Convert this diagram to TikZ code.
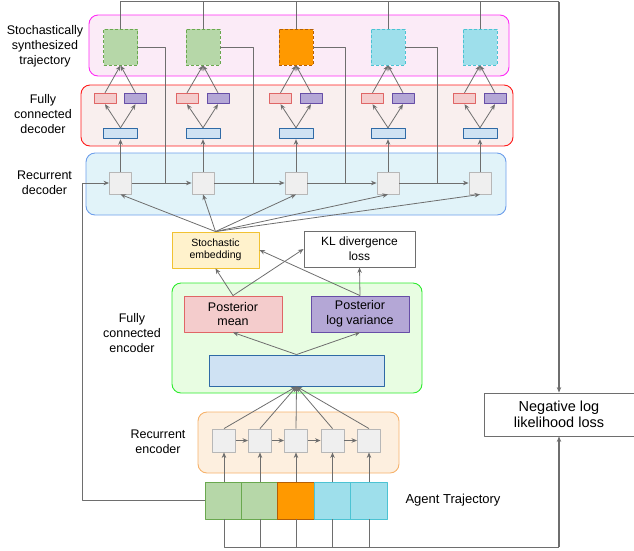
\documentclass[tikz,border=0pt]{standalone}
\usepackage{fontspec}
\setmainfont{Liberation Sans}
\usepackage{xcolor}
\usepackage{tikz}
\usetikzlibrary{arrows.meta}

\definecolor{linegray}{HTML}{6E6E6E}
\definecolor{cellfill}{HTML}{EFEFEF}
\definecolor{cellline}{HTML}{B7B7B7}
\definecolor{redfill}{HTML}{F4CCCC}
\definecolor{redline}{HTML}{E06666}
\definecolor{purfill}{HTML}{B4A7D6}
\definecolor{purline}{HTML}{674EA7}
\definecolor{bluefill}{HTML}{CFE2F3}
\definecolor{blueline}{HTML}{2F6AA6}
\definecolor{grnfill}{HTML}{B6D7A8}
\definecolor{grnline}{HTML}{6AA84F}
\definecolor{orgfill}{HTML}{FF9900}
\definecolor{orgline}{HTML}{B45F06}
\definecolor{cyafill}{HTML}{9EDFEB}
\definecolor{cyaline}{HTML}{4CC3D3}
\definecolor{embfill}{HTML}{FFF2CC}
\definecolor{embline}{HTML}{F1C232}
\definecolor{synthgrpfill}{HTML}{FBEBF7}
\definecolor{synthgrpline}{HTML}{FF2BF5}
\definecolor{fcdecfill}{HTML}{F9EFEE}
\definecolor{fcdecline}{HTML}{FF1A1A}
\definecolor{recdecfill}{HTML}{E1F3F9}
\definecolor{recdecline}{HTML}{6D9EEB}
\definecolor{fcencfill}{HTML}{E8FDE2}
\definecolor{fcencline}{HTML}{2DEB2D}
\definecolor{recencfill}{HTML}{FDEFDF}
\definecolor{recencline}{HTML}{F6B26B}

\begin{document}
\begin{tikzpicture}[x=1pt,y=-1pt,>={Stealth[length=5.5pt,width=4.5pt]},line join=round,
  grp/.style={rounded corners=9pt,line width=0.9pt,inner sep=0pt},
  cell/.style={draw=cellline,fill=cellfill,line width=0.9pt,inner sep=0pt},
  synthsq/.style={line width=0.9pt,dash pattern=on 3pt off 2pt,minimum width=34pt,minimum height=36pt,inner sep=0pt},
  trajsq/.style={line width=0.9pt,minimum width=36.2pt,minimum height=37pt,inner sep=0pt},
  smallbox/.style={line width=0.9pt,minimum height=10.5pt,inner sep=0pt},
  lossbox/.style={draw=linegray,fill=white,line width=0.9pt,inner sep=0pt,align=center},
  lbl/.style={align=center,font=\fontsize{12.5}{15}\selectfont},
  conn/.style={draw=linegray,line width=0.8pt},
  arr/.style={conn,->},
  fb/.style={draw=linegray,line width=1.3pt}]
  \useasboundingbox (0,0) rectangle (634,550);

  % group panels
  \node[grp,draw=synthgrpline,fill=synthgrpfill,minimum width=420pt,minimum height=61pt] (synthgrp) at (299,45.5) {};
  \node[grp,draw=fcdecline,fill=fcdecfill,minimum width=432pt,minimum height=61pt] (fcdecgrp) at (297,115.5) {};
  \node[grp,draw=recdecline,fill=recdecfill,minimum width=420pt,minimum height=62pt] (recdecgrp) at (296,184) {};
  \node[grp,draw=fcencline,fill=fcencfill,minimum width=250pt,minimum height=110pt] (fcencgrp) at (297,338) {};
  \node[grp,draw=recencline,fill=recencfill,minimum width=201pt,minimum height=61pt] (recencgrp) at (298.5,442.5) {};

  % group labels
  \node[lbl] (synthlbl) at (45,46) {Stochastically\\synthesized\\trajectory};
  \node[lbl] (fcdeclbl) at (43,114) {Fully\\connected\\decoder};
  \node[lbl] (recdeclbl) at (44.5,183) {Recurrent\\decoder};
  \node[lbl] (fcenclbl) at (132,333) {Fully\\connected\\encoder};
  \node[lbl] (recenclbl) at (158,442) {Recurrent\\encoder};
  \node[font=\fontsize{13}{15}\selectfont] (trajlbl) at (453,500) {Agent Trajectory};

  % synthesized trajectory
  \node[synthsq,draw=grnline,fill=grnfill] (ds1) at (120.5,47) {};
  \node[synthsq,draw=grnline,fill=grnfill] (ds2) at (203,47) {};
  \node[synthsq,draw=orgline,fill=orgfill] (ds3) at (296,47) {};
  \node[synthsq,draw=cyaline,fill=cyafill] (ds4) at (388,47) {};
  \node[synthsq,draw=cyaline,fill=cyafill] (ds5) at (480,47) {};

  % fully connected decoder
  \node[smallbox,draw=redline,fill=redfill,minimum width=22pt] (dr1) at (105,98.5) {};
  \node[smallbox,draw=purline,fill=purfill,minimum width=22pt] (dp1) at (135.5,98.5) {};
  \node[smallbox,draw=blueline,fill=bluefill,minimum width=34pt] (db1) at (120.5,133.5) {};
  \node[smallbox,draw=redline,fill=redfill,minimum width=22pt] (dr2) at (187,98.5) {};
  \node[smallbox,draw=purline,fill=purfill,minimum width=22pt] (dp2) at (218,98.5) {};
  \node[smallbox,draw=blueline,fill=bluefill,minimum width=34pt] (db2) at (203,133.5) {};
  \node[smallbox,draw=redline,fill=redfill,minimum width=22pt] (dr3) at (280.5,98.5) {};
  \node[smallbox,draw=purline,fill=purfill,minimum width=22pt] (dp3) at (311,98.5) {};
  \node[smallbox,draw=blueline,fill=bluefill,minimum width=34pt] (db3) at (296,133.5) {};
  \node[smallbox,draw=redline,fill=redfill,minimum width=22pt] (dr4) at (372.5,98.5) {};
  \node[smallbox,draw=purline,fill=purfill,minimum width=22pt] (dp4) at (403,98.5) {};
  \node[smallbox,draw=blueline,fill=bluefill,minimum width=34pt] (db4) at (388,133.5) {};
  \node[smallbox,draw=redline,fill=redfill,minimum width=22pt] (dr5) at (464.5,98.5) {};
  \node[smallbox,draw=purline,fill=purfill,minimum width=22pt] (dp5) at (495,98.5) {};
  \node[smallbox,draw=blueline,fill=bluefill,minimum width=34pt] (db5) at (480,133.5) {};

  % recurrent decoder
  \node[cell,minimum size=22pt] (dc1) at (120.5,183) {};
  \node[cell,minimum size=22pt] (dc2) at (203,183) {};
  \node[cell,minimum size=22pt] (dc3) at (296,183) {};
  \node[cell,minimum size=22pt] (dc4) at (388,183) {};
  \node[cell,minimum size=22pt] (dc5) at (480,183) {};

  % embedding and losses
  \node[draw=embline,fill=embfill,line width=0.9pt,minimum width=87pt,minimum height=36pt,inner sep=0pt,align=center,font=\fontsize{10.5}{12}\selectfont] (emb) at (215.5,250) {Stochastic\\embedding};
  \node[lossbox,minimum width=111pt,minimum height=36pt,font=\fontsize{12}{15}\selectfont] (kl) at (359.5,249) {KL divergence\\loss};
  \node[lossbox,minimum width=150pt,minimum height=43pt,font=\fontsize{14.5}{16.5}\selectfont] (nll) at (559,414.5) {Negative log\\likelihood loss};

  % fully connected encoder
  \node[draw=redline,fill=redfill,line width=0.9pt,minimum width=98pt,minimum height=36pt,inner sep=0pt,align=center,font=\fontsize{12.5}{14.5}\selectfont] (pmean) at (233,314) {Posterior\\mean};
  \node[draw=purline,fill=purfill,line width=0.9pt,minimum width=98pt,minimum height=36pt,inner sep=0pt,align=center,font=\fontsize{12.5}{14.5}\selectfont] (pvar) at (360,314) {Posterior\\log variance};
  \node[draw=blueline,fill=bluefill,line width=0.9pt,minimum width=175pt,minimum height=31pt,inner sep=0pt] (enc) at (296.5,370.5) {};

  % recurrent encoder
  \node[cell,minimum size=23pt] (ec1) at (224,440.5) {};
  \node[cell,minimum size=23pt] (ec2) at (260,440.5) {};
  \node[cell,minimum size=23pt] (ec3) at (296,440.5) {};
  \node[cell,minimum size=23pt] (ec4) at (332.5,440.5) {};
  \node[cell,minimum size=23pt] (ec5) at (369,440.5) {};

  % agent trajectory
  \node[trajsq,draw=grnline,fill=grnfill] (t1) at (224,500.5) {};
  \node[trajsq,draw=grnline,fill=grnfill] (t2) at (260,500.5) {};
  \node[trajsq,draw=orgline,fill=orgfill] (t3) at (296,500.5) {};
  \node[trajsq,draw=cyaline,fill=cyafill] (t4) at (332.5,500.5) {};
  \node[trajsq,draw=cyaline,fill=cyafill] (t5) at (369,500.5) {};

  \coordinate (topR) at (559,1.5);
  \coordinate (botR) at (559,547);
  \coordinate (lft) at (82,500.5);
  \coordinate (j1) at (165,183);
  \coordinate (j2) at (253,183);
  \coordinate (j3) at (345,183);
  \coordinate (j4) at (437,183);

  % decoder columns
  \draw[arr] (dc1) -- (db1);
  \draw[arr] (dc2) -- (db2);
  \draw[arr] (dc3) -- (db3);
  \draw[arr] (dc4) -- (db4);
  \draw[arr] (dc5) -- (db5);
  \draw[arr] (db1.north) -- (dr1.south);
  \draw[arr] (db1.north) -- (dp1.south);
  \draw[arr] (db2.north) -- (dr2.south);
  \draw[arr] (db2.north) -- (dp2.south);
  \draw[arr] (db3.north) -- (dr3.south);
  \draw[arr] (db3.north) -- (dp3.south);
  \draw[arr] (db4.north) -- (dr4.south);
  \draw[arr] (db4.north) -- (dp4.south);
  \draw[arr] (db5.north) -- (dr5.south);
  \draw[arr] (db5.north) -- (dp5.south);
  \draw[arr] (dr1.north) -- (ds1.south);
  \draw[arr] (dp1.north) -- (ds1.south);
  \draw[arr] (dr2.north) -- (ds2.south);
  \draw[arr] (dp2.north) -- (ds2.south);
  \draw[arr] (dr3.north) -- (ds3.south);
  \draw[arr] (dp3.north) -- (ds3.south);
  \draw[arr] (dr4.north) -- (ds4.south);
  \draw[arr] (dp4.north) -- (ds4.south);
  \draw[arr] (dr5.north) -- (ds5.south);
  \draw[arr] (dp5.north) -- (ds5.south);

  % recurrence and feedback of sampled points
  \draw[arr] (t1.west) -- (lft) |- (dc1.west);
  \draw[arr] (dc1) -- (dc2);
  \draw[arr] (dc2) -- (dc3);
  \draw[arr] (dc3) -- (dc4);
  \draw[arr] (dc4) -- (dc5);
  \draw[conn] (ds1.east) -| (j1);
  \draw[conn] (ds2.east) -| (j2);
  \draw[conn] (ds3.east) -| (j3);
  \draw[conn] (ds4.east) -| (j4);

  % embedding fan-out
  \draw[arr] (emb.north) -- (dc1.south);
  \draw[arr] (emb.north) -- (dc2.south);
  \draw[arr] (emb.north) -- (dc3.south);
  \draw[arr] (emb.north) -- (dc4.south);
  \draw[arr] (emb.north) -- (dc5.south);

  % posterior
  \draw[arr] (pmean.north) -- (emb.south);
  \draw[arr] (pmean.north) -- (kl.west);
  \draw[arr] (pvar.north) -- (emb.east);
  \draw[arr] (pvar.north) -- (kl.south);
  \draw[arr] (enc.north) -- (pmean.south);
  \draw[arr] (enc.north) -- (pvar.south);

  % encoder
  \draw[arr] (ec1.north) -- (enc.south);
  \draw[arr] (ec2.north) -- (enc.south);
  \draw[arr] (ec3.north) -- (enc.south);
  \draw[arr] (ec4.north) -- (enc.south);
  \draw[arr] (ec5.north) -- (enc.south);
  \draw[arr] (ec1) -- (ec2);
  \draw[arr] (ec2) -- (ec3);
  \draw[arr] (ec3) -- (ec4);
  \draw[arr] (ec4) -- (ec5);
  \draw[arr] (t1) -- (ec1);
  \draw[arr] (t2) -- (ec2);
  \draw[arr] (t3) -- (ec3);
  \draw[arr] (t4) -- (ec4);
  \draw[arr] (t5) -- (ec5);

  % likelihood loss
  \draw[conn] (ds1.north) |- (topR);
  \draw[conn] (ds2.north) |- (topR);
  \draw[conn] (ds3.north) |- (topR);
  \draw[conn] (ds4.north) |- (topR);
  \draw[conn] (ds5.north) |- (topR);
  \draw[fb,->] (topR) -- (nll.north);
  \draw[conn] (t1.south) |- (botR);
  \draw[conn] (t2.south) |- (botR);
  \draw[conn] (t3.south) |- (botR);
  \draw[conn] (t4.south) |- (botR);
  \draw[conn] (t5.south) |- (botR);
  \draw[fb,->] (botR) -- (nll.south);
\end{tikzpicture}
\end{document}
